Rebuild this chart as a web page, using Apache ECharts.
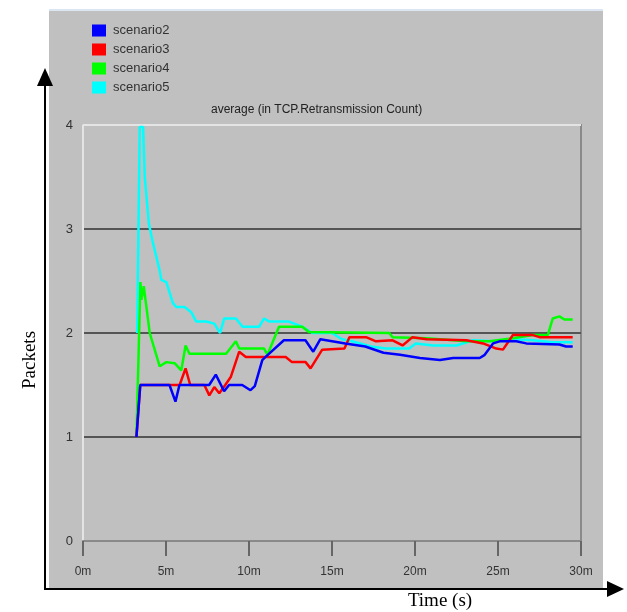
<!DOCTYPE html>
<html>
<head>
<meta charset="utf-8">
<script src="https://cdn.jsdelivr.net/npm/echarts@6/dist/echarts.min.js"></script>
<style>
  html, body { margin: 0; padding: 0; background: #fff; }
  #main { width: 627px; height: 612px; }
</style>
</head>
<body>
<div id="main"></div>
<script>
var chartDom = document.getElementById('main');
var myChart = echarts.init(chartDom);
var option;

// time in minutes, value in packets
const seriesNames = ['scenario2', 'scenario3', 'scenario4', 'scenario5'];
const seriesColors = ['#0000ff', '#ff0000', '#00ff00', '#00ffff'];

const scenario2 = [
  [3.22, 1], [3.45, 1.5], [5.21, 1.5], [5.57, 1.34], [5.81, 1.5], [7.6, 1.5],
  [8.0, 1.6], [8.5, 1.44], [8.8, 1.5], [9.59, 1.5], [10.09, 1.45], [10.35, 1.49],
  [10.8, 1.74], [11.0, 1.77], [12.1, 1.93], [13.4, 1.93], [13.87, 1.82],
  [14.3, 1.94], [15.8, 1.9], [17.0, 1.87], [18.1, 1.81], [19.1, 1.79],
  [20.3, 1.76], [21.5, 1.74], [22.3, 1.76], [23.9, 1.76], [24.2, 1.79],
  [24.7, 1.9], [25.1, 1.92], [26.1, 1.92], [26.7, 1.9], [28.7, 1.89],
  [29.1, 1.87], [29.5, 1.87]
];

const scenario3 = [
  [3.22, 1], [3.45, 1.5], [5.82, 1.5], [6.18, 1.66], [6.46, 1.5], [7.31, 1.5],
  [7.61, 1.4], [7.91, 1.48], [8.21, 1.42], [8.57, 1.5], [8.91, 1.58],
  [9.41, 1.82], [9.81, 1.77], [12.21, 1.77], [12.59, 1.72], [13.41, 1.72],
  [13.71, 1.66], [14.41, 1.84], [15.75, 1.85], [16.05, 1.96], [17.05, 1.96],
  [17.65, 1.92], [18.65, 1.93], [19.25, 1.88], [19.85, 1.96], [20.7, 1.94],
  [23.1, 1.93], [24.1, 1.9], [24.9, 1.85], [25.3, 1.84], [25.9, 1.98],
  [27.1, 1.98], [27.5, 1.96], [29.5, 1.96]
];

const scenario4 = [
  [3.22, 1], [3.46, 2.49], [3.52, 2.32], [3.66, 2.45], [4.02, 2.0], [4.62, 1.68],
  [5.02, 1.72], [5.52, 1.71], [5.92, 1.64], [6.18, 1.88], [6.41, 1.8],
  [8.62, 1.8], [9.21, 1.92], [9.41, 1.85], [10.91, 1.85], [11.11, 1.79],
  [11.81, 2.06], [13.21, 2.06], [13.61, 2.01], [18.45, 2.0], [18.65, 1.96],
  [20.7, 1.95], [23.1, 1.92], [24.5, 1.92], [25.9, 1.95], [27.1, 1.98],
  [28.0, 1.98], [28.3, 2.14], [28.7, 2.16], [29.0, 2.13], [29.5, 2.13]
];

const scenario5 = [
  [3.26, 2.0], [3.42, 3.98], [3.62, 3.98], [3.72, 3.5], [3.97, 3.05], [4.18, 2.89],
  [4.62, 2.6], [4.72, 2.51], [5.02, 2.49], [5.41, 2.29], [5.62, 2.25],
  [6.12, 2.25], [6.52, 2.2], [6.82, 2.11], [7.42, 2.11], [7.91, 2.09],
  [8.26, 2.0], [8.51, 2.14], [9.21, 2.14], [9.61, 2.06], [10.61, 2.06],
  [10.91, 2.14], [11.21, 2.11], [12.41, 2.11], [13.21, 2.06], [13.81, 2.0],
  [15.0, 2.0], [15.6, 1.94], [16.2, 1.92], [17.35, 1.87], [18.25, 1.85],
  [19.65, 1.85], [20.05, 1.9], [21.1, 1.88], [22.5, 1.88], [23.5, 1.93],
  [24.7, 1.92], [25.9, 1.94], [27.1, 1.93], [28.3, 1.91], [29.5, 1.91]
];

const allData = [scenario2, scenario3, scenario4, scenario5];
const xTicks = [0, 5, 10, 15, 20, 25, 30];

const sans = '"Liberation Sans", Arial, sans-serif';
const serif = '"Liberation Serif", "Times New Roman", serif';

// draw order: cyan at back, blue on top
const zOrder = [5, 4, 3, 2];

const series = allData.map(function (d, i) {
  return {
    name: seriesNames[i],
    type: 'line',
    data: d,
    showSymbol: false,
    symbol: 'none',
    z: zOrder[i],
    lineStyle: { color: seriesColors[i], width: 2.5 },
    itemStyle: { color: seriesColors[i] },
    animation: false
  };
});

option = {
  backgroundColor: '#ffffff',
  animation: false,
  title: {
    text: 'average (in TCP.Retransmission Count)',
    left: 206,
    top: 99,
    textStyle: { fontFamily: sans, fontSize: 12, fontWeight: 'normal', color: '#222' }
  },
  legend: {
    orient: 'vertical',
    left: 87,
    top: 19,
    itemWidth: 14,
    itemHeight: 12,
    itemGap: 6,
    icon: 'rect',
    data: seriesNames,
    selectedMode: false,
    textStyle: { fontFamily: sans, fontSize: 13, color: '#333', padding: [0, 0, 0, 2] }
  },
  grid: {
    left: 83,
    right: 46,
    top: 125,
    bottom: 71,
    show: true,
    backgroundColor: '#c0c0c0',
    borderColor: '#8a8a8a',
    borderWidth: 2
  },
  xAxis: {
    type: 'value',
    min: 0,
    max: 30,
    interval: 5,
    axisLine: { show: true, lineStyle: { color: '#8a8a8a', width: 2 } },
    axisTick: { show: true, length: 15, lineStyle: { color: '#666', width: 2 } },
    axisLabel: {
      margin: 25,
      fontFamily: sans,
      fontSize: 12,
      color: '#333',
      formatter: function (v) { return xTicks.indexOf(v) >= 0 ? v + 'm' : ''; }
    },
    splitLine: { show: false }
  },
  yAxis: {
    type: 'value',
    min: 0,
    max: 4,
    interval: 1,
    axisLine: { show: true, lineStyle: { color: '#e4e4e4', width: 2 } },
    axisTick: { show: false },
    axisLabel: { margin: 10, fontFamily: sans, fontSize: 13, color: '#333' },
    splitLine: {
      show: true,
      lineStyle: { color: ['#8a8a8a', '#555555', '#555555', '#555555', '#e4e4e4'], width: 2 }
    }
  },
  graphic: [
    // grey panel behind everything
    { type: 'rect', z: -10, silent: true,
      shape: { x: 49, y: 9, width: 554, height: 579 },
      style: { fill: '#c0c0c0' } },
    { type: 'rect', z: -9, silent: true,
      shape: { x: 49, y: 9, width: 554, height: 2 },
      style: { fill: '#dbe6f2' } },
    // black axis arrows
    { type: 'line', z: 10, silent: true,
      shape: { x1: 45, y1: 589, x2: 45, y2: 84 },
      style: { stroke: '#000', lineWidth: 2 } },
    { type: 'polygon', z: 10, silent: true,
      shape: { points: [[45, 68], [37, 86], [53, 86]] },
      style: { fill: '#000' } },
    { type: 'line', z: 10, silent: true,
      shape: { x1: 44, y1: 589, x2: 608, y2: 589 },
      style: { stroke: '#000', lineWidth: 2 } },
    { type: 'polygon', z: 10, silent: true,
      shape: { points: [[624, 589], [607, 581], [607, 597]] },
      style: { fill: '#000' } },
    // axis names
    { type: 'text', z: 10, silent: true,
      x: 30, y: 360, rotation: Math.PI / 2,
      style: { text: 'Packets', fontFamily: serif, fontSize: 19, fill: '#000',
               align: 'center', verticalAlign: 'middle' } },
    { type: 'text', z: 10, silent: true,
      x: 440, y: 601,
      style: { text: 'Time (s)', fontFamily: serif, fontSize: 19, fill: '#000',
               align: 'center', verticalAlign: 'middle' } }
  ],
  series: series
};

option && myChart.setOption(option);
</script>
</body>
</html>
